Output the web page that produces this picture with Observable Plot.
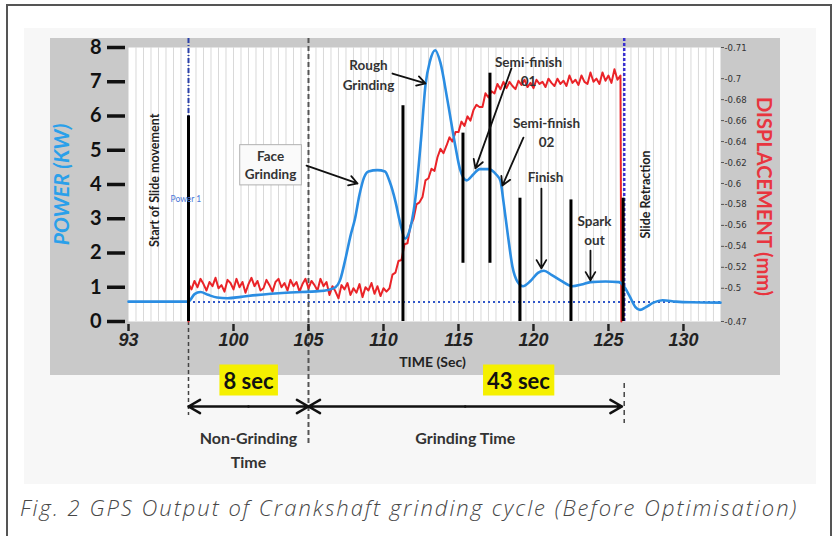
<!DOCTYPE html>
<html>
<head>
<meta charset="utf-8">
<script src="https://cdn.jsdelivr.net/npm/d3@7"></script>
<script src="https://cdn.jsdelivr.net/npm/@observablehq/plot@0.6"></script>
<style>
  html, body { margin: 0; padding: 0; background: #ffffff; }
  #wrap { position: relative; width: 840px; height: 536px; overflow: hidden; background: #fff; }
  #frameBox { position: absolute; left: 6px; top: 4px; width: 826px; height: 560px; border: 2px solid #555; box-sizing: border-box; }
  #shade { position: absolute; left: 24px; top: 28px; width: 792px; height: 456px; background: #f7f7f7; }
  #panel { position: absolute; left: 50px; top: 38px; width: 730px; height: 337px; background: #c9c9c9; }
  #chart { position: absolute; left: 0; top: 0; }
  #caption { position: absolute; left: 20px; top: 492px; font-family: "Open Sans", "Lato", sans-serif; font-style: italic; font-weight: 300; font-size: 22px; letter-spacing: 2px; color: #474747; white-space: nowrap; }
</style>
</head>
<body>
<div id="wrap">
  <div id="frameBox"></div>
  <div id="shade"></div>
  <div id="panel"></div>
  <div id="chart"></div>
  <div id="caption">Fig. 2 GPS Output of Crankshaft grinding cycle (Before Optimisation)</div>
</div>
<script>
// ---------- data ----------
const timeTicks = [93, 100, 105, 110, 115, 120, 125, 130];
const powerTicks = [0, 1, 2, 3, 4, 5, 6, 7, 8];
const dispTicks = [-0.47, -0.5, -0.52, -0.54, -0.56, -0.58, -0.6, -0.62, -0.64, -0.66, -0.68, -0.7, -0.71];
const gridTimes = [93.5,94,94.5,95,95.5,96,96.5,97,97.5,98,98.5,99,99.5,100,100.5,101,101.5,102,102.5,103,103.5,104,104.5,105,105.5,106,106.5,107,107.5,108,108.5,109,109.5,110,110.5,111,111.5,112,112.5,113,113.5,114,114.5,115,115.5,116,116.5,117,117.5,118,118.5,119,119.5,120,120.5,121,121.5,122,122.5,123,123.5,124,124.5,125,125.5,126,126.5,127,127.5,128,128.5,129,129.5,130,130.5,131,131.5,132];

// Power (kW) vs time (s)
const powerSeries = [
  [93,0.58],[96.95,0.58],[97.1,0.62],[97.4,0.8],[97.8,0.86],[98.3,0.78],[98.9,0.7],[99.6,0.68],
  [100.5,0.72],[101.5,0.77],[102.5,0.81],[103.5,0.84],[104.5,0.86],[105.5,0.88],[106.3,0.92],
  [106.8,1.0],[107.1,1.2],[107.5,1.9],[107.8,2.5],[108.1,3.0],[108.4,3.7],[108.7,4.2],[109.0,4.38],
  [109.6,4.42],[110.1,4.38],[110.4,4.1],[110.8,3.5],[111.1,2.9],[111.45,2.42],[111.7,2.6],[112.1,3.5],
  [112.5,5.3],[112.8,6.9],[113.1,7.6],[113.45,7.92],[113.8,7.55],[114.25,6.5],[114.8,5.1],[115.1,4.45],
  [115.55,4.12],[116.0,4.3],[116.4,4.45],[117.0,4.45],[117.5,4.3],[117.8,4.1],[118.0,3.5],[118.3,2.5],
  [118.6,1.6],[118.95,1.15],[119.3,1.03],[119.8,1.18],[120.3,1.42],[120.7,1.48],[121.2,1.36],[121.8,1.2],
  [122.6,1.03],[123.2,1.08],[123.8,1.15],[124.8,1.17],[125.7,1.15],[126.0,1.05],[126.4,0.75],[126.8,0.42],
  [127.1,0.34],[127.5,0.42],[128.0,0.55],[128.6,0.62],[129.5,0.58],[130.5,0.56],[132.47,0.55]
];
const powerIdle = 0.57;

// Displacement (mm) vs time (s)
const dispSeries = [
  [97.0,-0.47],[97.05,-0.503],
  [97.2,-0.499],[97.4,-0.507],[97.6,-0.501],[97.8,-0.509],[98.0,-0.504],[98.2,-0.498],[98.4,-0.506],[98.6,-0.502],
  [98.8,-0.51],[99.0,-0.5],[99.2,-0.503],[99.4,-0.497],[99.6,-0.508],[99.8,-0.505],[100.0,-0.499],[100.2,-0.509],
  [100.4,-0.501],[100.6,-0.506],[100.8,-0.496],[101.0,-0.504],[101.2,-0.51],[101.4,-0.502],[101.6,-0.507],[101.8,-0.498],
  [102.0,-0.5],[102.2,-0.508],[102.4,-0.503],[102.6,-0.497],[102.8,-0.506],[103.0,-0.509],[103.2,-0.501],[103.4,-0.505],
  [103.6,-0.498],[103.8,-0.508],[104.0,-0.502],[104.2,-0.506],[104.4,-0.497],[104.6,-0.504],[104.8,-0.509],[105.0,-0.5],
  [105.2,-0.507],[105.4,-0.503],[105.6,-0.498],[105.8,-0.509],[106.0,-0.502],[106.2,-0.506],
  [106.4,-0.494],[106.6,-0.502],[106.8,-0.497],[107.0,-0.491],[107.2,-0.503],[107.4,-0.499],[107.6,-0.505],[107.8,-0.494],
  [108.0,-0.5],[108.2,-0.496],[108.4,-0.504],[108.6,-0.492],[108.8,-0.501],[109.0,-0.498],[109.2,-0.505],[109.4,-0.495],
  [109.6,-0.502],[109.8,-0.493],[110.0,-0.5],[110.2,-0.497],
  [110.4,-0.5],[110.6,-0.513],[110.8,-0.515],[111.0,-0.526],[111.2,-0.527],[111.4,-0.542],[111.6,-0.543],[111.8,-0.56],
  [112.0,-0.566],[112.2,-0.58],[112.4,-0.582],[112.6,-0.587],[112.8,-0.603],[113.0,-0.605],[113.2,-0.614],[113.4,-0.612],
  [113.6,-0.625],[113.8,-0.633],[114.0,-0.629],[114.2,-0.636],[114.4,-0.644],[114.6,-0.64],[114.8,-0.649],[115.0,-0.649],
  [115.2,-0.659],[115.4,-0.655],[115.6,-0.664],[115.8,-0.66],[116.0,-0.67],[116.2,-0.675],[116.4,-0.673],[116.6,-0.673],
  [116.8,-0.686],[117.0,-0.682],[117.2,-0.688],[117.4,-0.686],[117.6,-0.695],[117.8,-0.69],[118.0,-0.697],
  [118.2,-0.691],[118.4,-0.697],[118.6,-0.693],[118.8,-0.69],[119.0,-0.698],[119.2,-0.694],[119.4,-0.699],[119.6,-0.692],
  [119.8,-0.696],[120.0,-0.691],[120.2,-0.699],[120.4,-0.695],[120.6,-0.697],[120.8,-0.692],[121.0,-0.7],[121.2,-0.696],
  [121.4,-0.693],[121.6,-0.7],[121.8,-0.695],[122.0,-0.698],[122.2,-0.693],[122.4,-0.701],[122.6,-0.696],[122.8,-0.699],
  [123.0,-0.694],[123.2,-0.701],[123.4,-0.697],[123.6,-0.695],[123.8,-0.702],[124.0,-0.697],[124.2,-0.7],[124.4,-0.695],
  [124.6,-0.702],[124.8,-0.698],[125.0,-0.701],[125.2,-0.696],[125.4,-0.703],[125.6,-0.699],[125.8,-0.701],[125.86,-0.47]
];

// stage marker bars: time, bottom power, top power
const stageBars = [
  {t: 97.0, lo: 0, hi: 6.0},
  {t: 111.3, lo: 0, hi: 6.3},
  {t: 115.3, lo: 1.7, hi: 5.5},
  {t: 117.1, lo: 1.7, hi: 7.25},
  {t: 119.1, lo: 0, hi: 3.6},
  {t: 122.5, lo: 0, hi: 3.55},
  {t: 125.98, lo: 0, hi: 3.6}
];

// callout labels and their arrows (time, power)
const callouts = [
  {text: "Face\nGrinding", t: 102.47, p: 4.6, ax1: 104.87, ay1: 4.55, ax2: 108.27, ay2: 4.03},
  {text: "Rough\nGrinding", t: 109.0, p: 7.24, ax1: 110.6, ay1: 7.24, ax2: 112.8, ay2: 6.95},
  {text: "Semi-finish\n01", t: 119.67, p: 7.33, ax1: 118.53, ay1: 7.39, ax2: 116.13, ay2: 4.47},
  {text: "Semi-finish\n02", t: 120.87, p: 5.55, ax1: 119.33, ay1: 5.37, ax2: 117.93, ay2: 3.97},
  {text: "Finish", t: 120.8, p: 4.26, ax1: 120.53, ay1: 3.88, ax2: 120.53, ay2: 1.55},
  {text: "Spark\nout", t: 124.07, p: 2.69, ax1: 123.8, ay1: 2.07, ax2: 123.8, ay2: 1.2}
];
const eventLabels = [
  {text: "Start of Slide movement", t: 94.8, p: 4.12},
  {text: "Slide Retraction", t: 127.47, p: 3.71}
];
const seriesTag = {text: "Power 1", t: 95.8, p: 3.56};

// cycle phases
const phases = [
  {start: 97.0, end: 105.0, dur: "8 sec", durAt: 101.0, name: "Non-Grinding\nTime"},
  {start: 105.0, end: 125.9, dur: "43 sec", durAt: 119.0, name: "Grinding Time"}
];
const slideStart = 97.0, grindStart = 105.0, slideRetract = 126.05;

// ---------- helpers ----------
const dispToPower = d3.scaleLinear().domain([-0.47, -0.5, -0.7, -0.71]).range([0, 0.97, 7.09, 8]);
const dispTickPos = dispTicks.map(d => dispToPower(d));
const dispLabel = new Map(dispTicks.map(d => [dispToPower(d), String(d)]));

const powerData = powerSeries.map(([t, p]) => ({t, p}));
const dispData = dispSeries.map(([t, d]) => ({t, p: dispToPower(d)}));

const BLUE = "#2b8de2", RED = "#ea2328";
const sans = "Lato, 'Open Sans', sans-serif";

const plot = Plot.plot({
  width: 840, height: 482,
  marginLeft: 128, marginRight: 120, marginTop: 47, marginBottom: 161,
  x: {domain: [93, 132.47]},
  y: {domain: [0, 8]},
  style: {background: "transparent", overflow: "visible", fontFamily: sans},
  marks: [
    Plot.frame({fill: "white", stroke: "none"}),
    Plot.ruleX(gridTimes, {stroke: "#d9d9d9", strokeWidth: 1}),
    Plot.ruleY([powerIdle], {stroke: "#2f55c8", strokeWidth: 2, strokeDasharray: "2,3"}),
    // dashed reference verticals
    Plot.ruleX([slideStart], {stroke: "#2a3fa8", strokeWidth: 2, strokeDasharray: "5,2,1,2", insetTop: -9}),
    Plot.ruleX([slideStart], {stroke: "#444", strokeWidth: 1.5, strokeDasharray: "4,3", insetTop: 274, insetBottom: -94}),
    Plot.ruleX([grindStart], {stroke: "#555", strokeWidth: 2, strokeDasharray: "5,3", insetTop: -9, insetBottom: -122}),
    Plot.ruleX([slideRetract], {stroke: "#3a2fd0", strokeWidth: 2.5, strokeDasharray: "3,2", insetTop: -9}),
    Plot.ruleX([slideRetract], {stroke: "#444", strokeWidth: 1.5, strokeDasharray: "5,4", insetTop: 336, insetBottom: -102}),
    // series
    Plot.line(dispData, {x: "t", y: "p", stroke: RED, strokeWidth: 2, curve: "linear"}),
    Plot.line(powerData, {x: "t", y: "p", stroke: BLUE, strokeWidth: 2.6, curve: "monotone-x"}),
    // stage bars
    Plot.ruleX(stageBars, {x: "t", y1: "lo", y2: "hi", stroke: "#000", strokeWidth: 3}),
    // callouts
    Plot.arrow(callouts, {x1: "ax1", y1: "ay1", x2: "ax2", y2: "ay2", stroke: "#111", strokeWidth: 1.8, headLength: 8}),
    Plot.text(callouts.filter(c => c.text.startsWith("Face")), {x: "t", y: "p", text: "text", fontSize: 13.5, fontWeight: "bold", fill: "#333", lineHeight: 1.35, className: "boxed"}),
    Plot.text(callouts.filter(c => !c.text.startsWith("Face")), {x: "t", y: "p", text: "text", fontSize: 13.5, fontWeight: "bold", fill: "#333", lineHeight: 1.45}),
    Plot.text(eventLabels, {x: "t", y: "p", text: "text", rotate: -90, fontSize: 12.5, fontWeight: "bold", fill: "#222"}),
    Plot.text([seriesTag], {x: "t", y: "p", text: "text", textAnchor: "start", fontSize: 8.5, fill: "#4b78d8"}),
    // phase annotation below the axis
    Plot.arrow(phases, {x1: d => (d.start + d.end) / 2, x2: "start", y1: () => 0, y2: () => 0, dy: 85, stroke: "#111", strokeWidth: 2.5, headLength: 8}),
    Plot.arrow(phases, {x1: d => (d.start + d.end) / 2, x2: "end", y1: () => 0, y2: () => 0, dy: 85, stroke: "#111", strokeWidth: 2.5, headLength: 8}),
    Plot.text(phases, {x: "durAt", text: "dur", frameAnchor: "bottom", dy: 67, fontSize: 22, fontWeight: "bold", fill: "#111", className: "hl"}),
    Plot.text(phases, {x: d => (d.start + d.end) / 2, text: "name", frameAnchor: "bottom", lineAnchor: "top", dy: 105, fontSize: 16, fontWeight: "bold", fill: "#333", lineHeight: 1.5}),
    // axes
    Plot.axisX(timeTicks, {anchor: "bottom", tickSize: 7, tickPadding: 2, dy: 3, strokeWidth: 2.5, stroke: "#222", fontSize: 18, fontWeight: "bold", fontStyle: "italic", fontFamily: "'Liberation Sans', Arial, sans-serif", fill: "#222", label: null}),
    Plot.axisY(powerTicks, {anchor: "left", tickSize: 18, tickPadding: 6, dx: -3, strokeWidth: 3.5, stroke: "#111", fontSize: 20, fontWeight: "bold", fill: "#111", label: null}),
    Plot.axisY(dispTickPos, {anchor: "right", tickSize: 3, tickPadding: 1, stroke: "#555", fontSize: 9.5, fill: "#333", fontFamily: "'DejaVu Sans Condensed', sans-serif", tickFormat: p => dispLabel.get(p), label: null}),
    Plot.text(["POWER (KW)"], {frameAnchor: "left", textAnchor: "middle", rotate: -90, dx: -66, fontSize: 21, fontWeight: "bold", fontStyle: "italic", fill: "#2aa0ea"}),
    Plot.text(["DISPLACEMENT (mm)"], {frameAnchor: "right", textAnchor: "middle", rotate: 90, dx: 43, dy: 12, fontSize: 20, fontWeight: "bold", fill: "#e8353f"}),
    Plot.text(["TIME (Sec)"], {frameAnchor: "bottom", dx: 8, dy: 45, fontSize: 14, fontWeight: "bold", fill: "#222"})
  ]
});
document.getElementById("chart").appendChild(plot);

// background boxes behind highlighted / boxed labels
function boxBehind(selector, pad, fill, stroke) {
  plot.querySelectorAll(selector + " text").forEach(t => {
    const b = t.getBBox();
    const r = document.createElementNS("http://www.w3.org/2000/svg", "rect");
    r.setAttribute("x", b.x - pad[0]);
    r.setAttribute("y", b.y - pad[1]);
    r.setAttribute("width", b.width + 2 * pad[0]);
    r.setAttribute("height", b.height + 2 * pad[1]);
    r.setAttribute("fill", fill);
    if (stroke) { r.setAttribute("stroke", stroke); r.setAttribute("stroke-width", 1); }
    if (t.getAttribute("transform")) r.setAttribute("transform", t.getAttribute("transform"));
    t.parentNode.insertBefore(r, t);
  });
}
boxBehind("g.hl", [4, 2], "#f5f000", null);
boxBehind("g.boxed", [5, 3], "#fafafa", "#b0b0b0");
</script>
</body>
</html>
